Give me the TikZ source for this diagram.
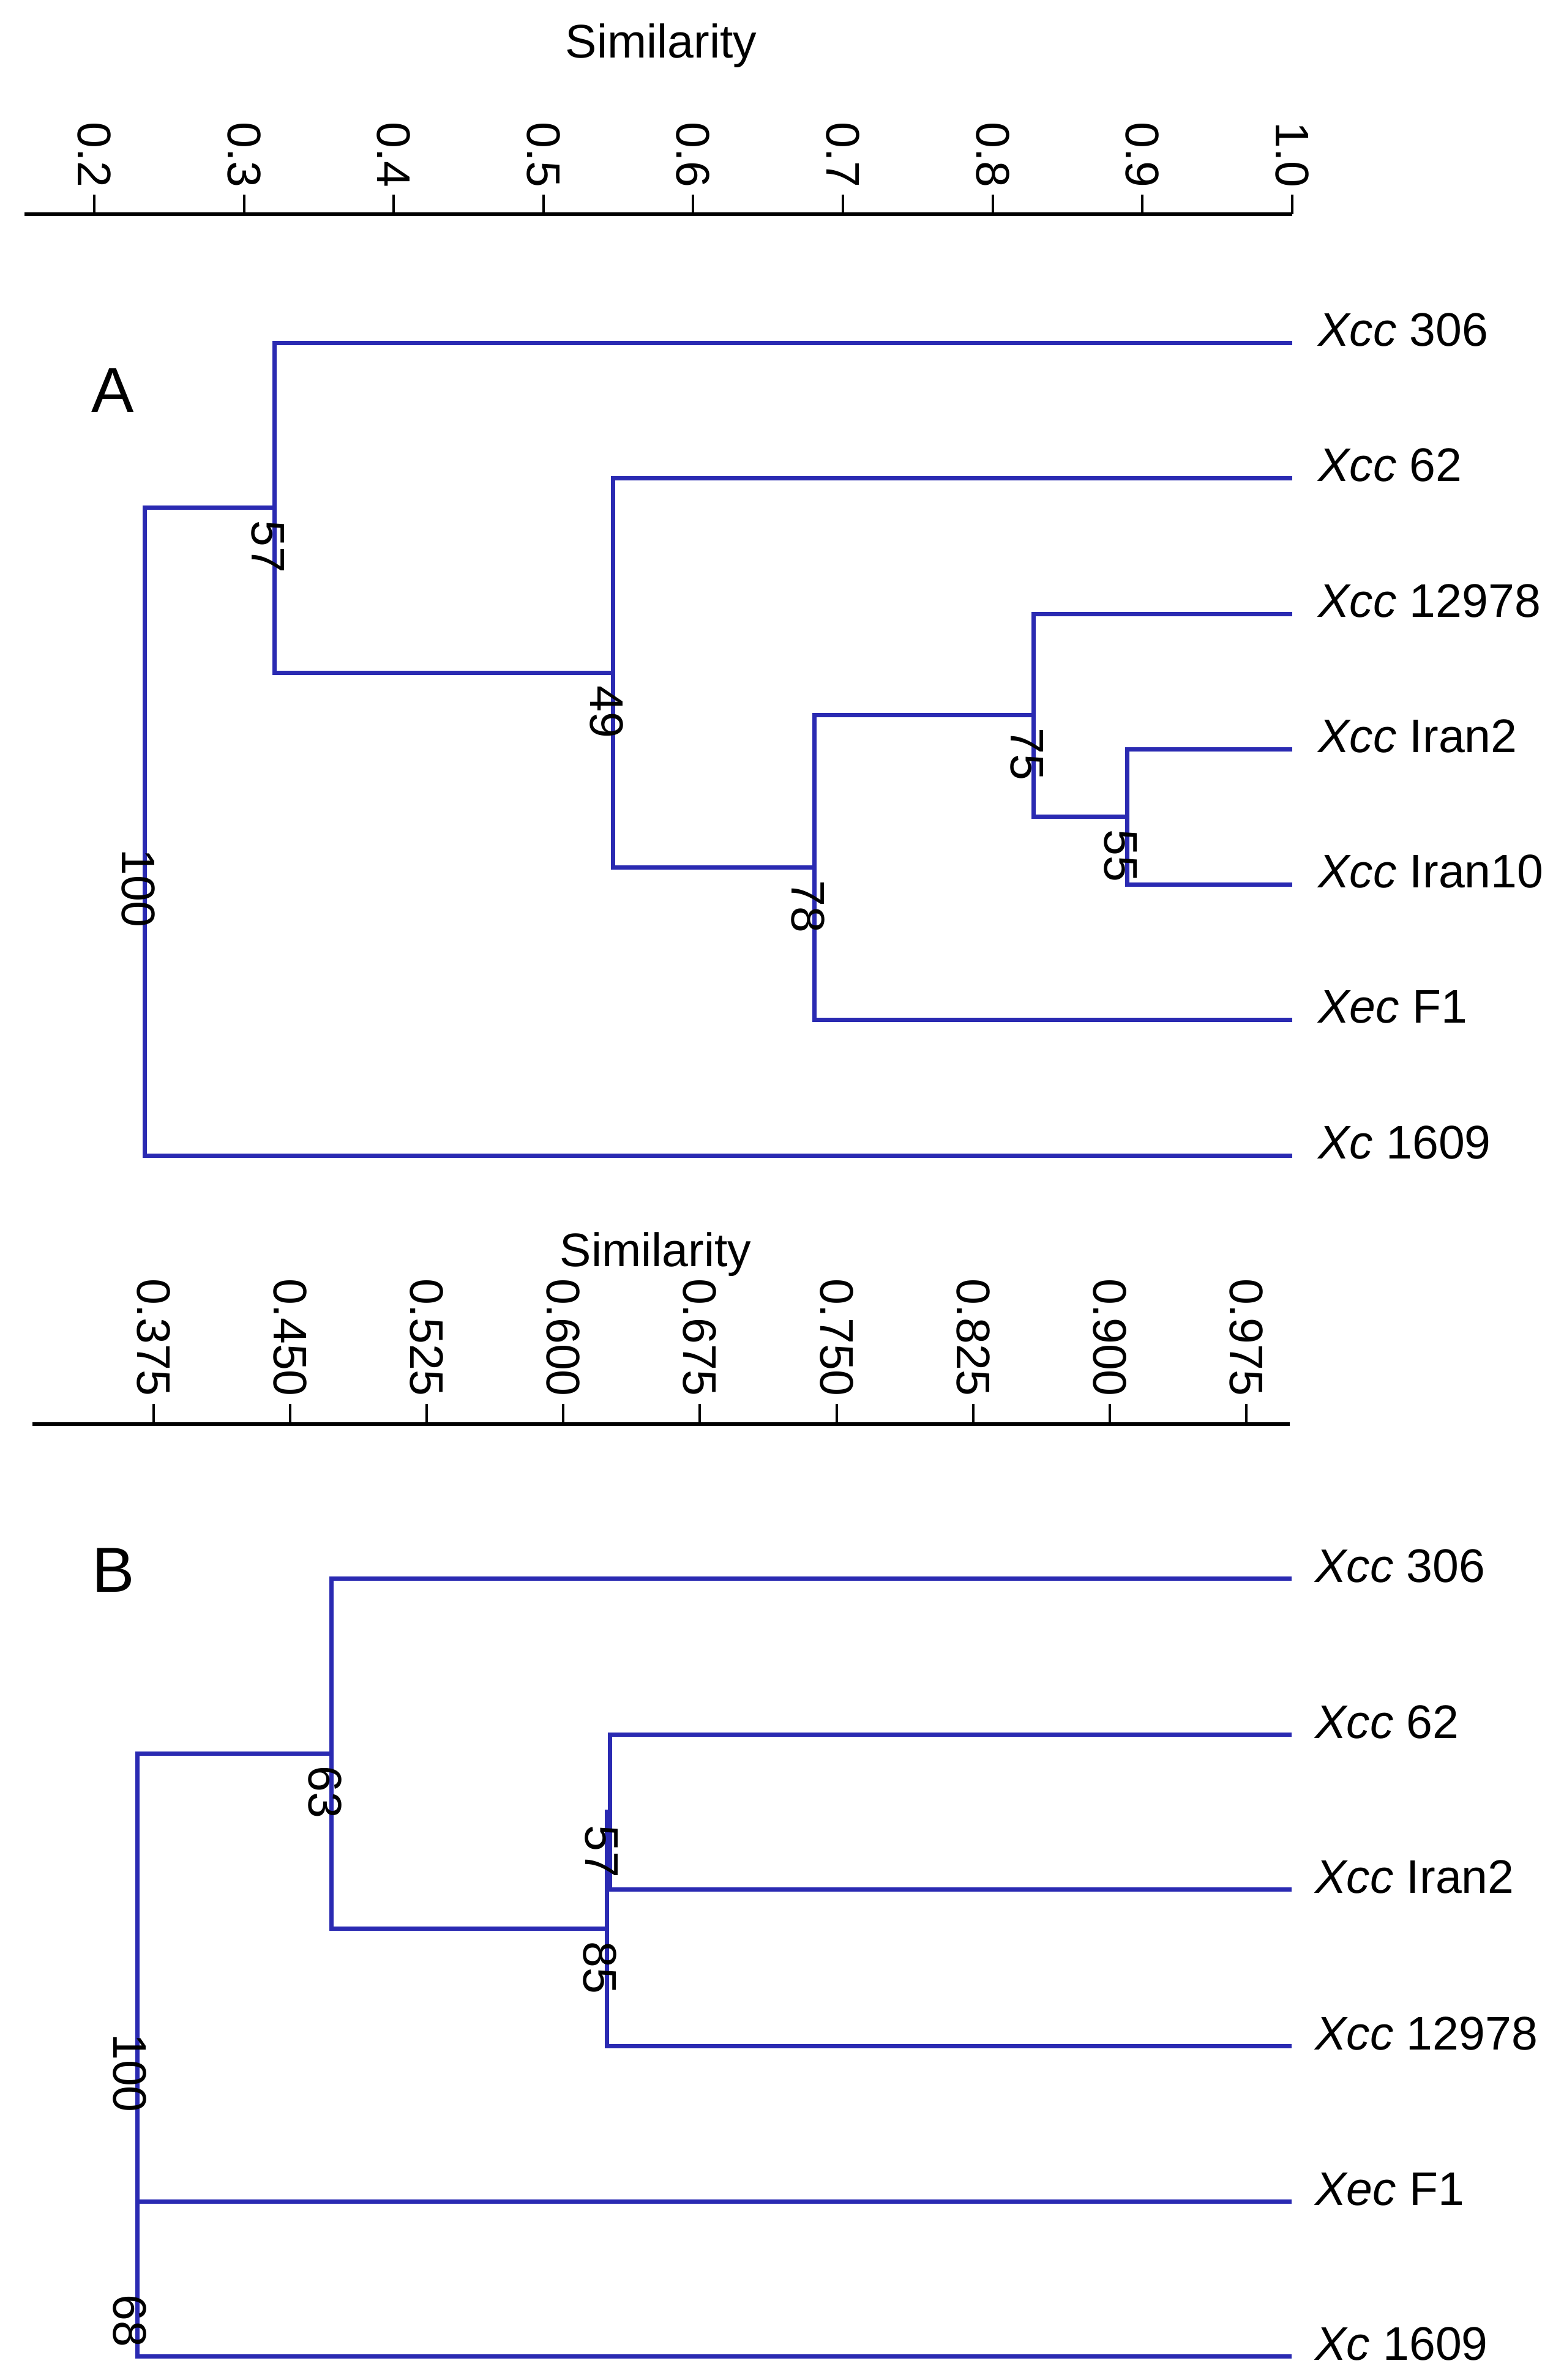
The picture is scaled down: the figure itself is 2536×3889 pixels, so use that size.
\documentclass[tikz,border=0pt]{standalone}
\usepackage{fontspec}
\setmainfont{Liberation Sans}
\newcommand{\fsnorm}{\fontsize{77}{92}\selectfont}
\newcommand{\fsbig}{\fontsize{104}{120}\selectfont}
\definecolor{treeblue}{RGB}{42,42,178}
\begin{document}
\begin{tikzpicture}[x=1pt,y=-1pt,
  br/.style={draw=treeblue, line width=7pt, line join=miter, line cap=butt},
  axisline/.style={draw=black, line width=6pt},
  tickmark/.style={draw=black, line width=4pt},
  ticklab/.style={font=\fsnorm, rotate=-90, anchor=east, inner sep=0pt},
  boot/.style={font=\fsnorm, rotate=-90, anchor=west, inner sep=0pt},
  leaf/.style={font=\fsnorm, anchor=base west, inner sep=0pt},
  ttl/.style={font=\fsnorm, anchor=base, inner sep=0pt},
  panel/.style={font=\fsbig, anchor=base west, inner sep=0pt}]
\useasboundingbox (0,0) rectangle (2536,3889);
\fill[white] (0,0) rectangle (2536,3889);

% ---------------- Panel A axis ----------------
\node[ttl] (simA) at (1080,94) {Similarity};
\draw[axisline] (40,350) -- (2111,350);
\foreach \v [count=\i from 0] in {0.2,0.3,0.4,0.5,0.6,0.7,0.8,0.9,1.0}{
  \pgfmathsetmacro{\tx}{154+\i*244.6}
  \draw[tickmark] (\tx,318) -- (\tx,350);
  \node[ticklab] (tA\i) at (\tx,307) {\v};
}

% ---------------- Panel A tree ----------------
\node[panel] (labA) at (149,673) {A};
\coordinate (a1) at (2111,560);
\coordinate (a2) at (2111,781);
\coordinate (a3) at (2111,1003);
\coordinate (a4) at (2111,1224);
\coordinate (a5) at (2111,1445);
\coordinate (a6) at (2111,1666);
\coordinate (a7) at (2111,1888);
\coordinate (n55) at (1841,1334.5);
\coordinate (n75) at (1688,1168.75);
\coordinate (n78) at (1330,1417.4);
\coordinate (n49) at (1001,1099.2);
\coordinate (n57) at (448,829.6);
\coordinate (nR)  at (236,1358.8);

\draw[br] (a4) -- (a4 -| n55) -- (a5 -| n55) -- (a5);
\draw[br] (a3) -- (a3 -| n75) -- (n55 -| n75) -- (n55);
\draw[br] (n75) -- (n75 -| n78) -- (a6 -| n78) -- (a6);
\draw[br] (a2) -- (a2 -| n49) -- (n78 -| n49) -- (n78);
\draw[br] (a1) -- (a1 -| n57) -- (n49 -| n57) -- (n49);
\draw[br] (n57) -- (n57 -| nR) -- (a7 -| nR) -- (a7);

\node[boot] (bA55) at (1831,1355) {55};
\node[boot] (bA75) at (1678,1189) {75};
\node[boot] (bA78) at (1320,1438) {78};
\node[boot] (bA49) at (991,1120) {49};
\node[boot] (bA57) at (438,850) {57};
\node[boot] (bA100) at (226,1387) {100};

\node[leaf] (LA1) at (2153,565) {\textit{Xcc} 306};
\node[leaf] (LA2) at (2153,786) {\textit{Xcc} 62};
\node[leaf] (LA3) at (2153,1008) {\textit{Xcc} 12978};
\node[leaf] (LA4) at (2153,1229) {\textit{Xcc} Iran2};
\node[leaf] (LA5) at (2153,1450) {\textit{Xcc} Iran10};
\node[leaf] (LA6) at (2153,1671) {\textit{Xec} F1};
\node[leaf] (LA7) at (2153,1893) {\textit{Xc} 1609};

% ---------------- Panel B axis ----------------
\node[ttl] (simB) at (1071,2069) {Similarity};
\draw[axisline] (53,2327) -- (2107,2327);
\foreach \v [count=\i from 0] in {0.375,0.450,0.525,0.600,0.675,0.750,0.825,0.900,0.975}{
  \pgfmathsetmacro{\tx}{251+\i*223.1}
  \draw[tickmark] (\tx,2294) -- (\tx,2327);
  \node[ticklab] (tB\i) at (\tx,2282) {\v};
}

% ---------------- Panel B tree ----------------
\node[panel] (labB) at (150,2601) {B};
\coordinate (b1) at (2110,2579);
\coordinate (b2) at (2110,2834);
\coordinate (b3) at (2110,3087);
\coordinate (b4) at (2110,3343);
\coordinate (b5) at (2110,3597);
\coordinate (b6) at (2110,3850);
\coordinate (m57) at (996,2960.5);
\coordinate (m85) at (991,3151.75);
\coordinate (m63) at (541,2865.4);
\coordinate (m68) at (224,3723.5);
\coordinate (mR)  at (224,3294.5);

\draw[br] (b2) -- (b2 -| m57) -- (b3 -| m57) -- (b3);
\draw[br] (m57) -- (m57 -| m85) -- (b4 -| m85) -- (b4);
\draw[br] (b1) -- (b1 -| m63) -- (m85 -| m63) -- (m85);
\draw[br] (b5) -- (b5 -| m68) -- (b6 -| m68) -- (b6);
\draw[br] (m63) -- (m63 -| mR) -- (m68 -| mR) -- (m68);

\node[boot] (bB63) at (531,2885) {63};
\node[boot] (bB57) at (983,2982) {57};
\node[boot] (bB85) at (980,3172) {85};
\node[boot] (bB100) at (212,3323) {100};
\node[boot] (bB68) at (212,3749) {68};

\node[leaf] (LB1) at (2148,2585) {\textit{Xcc} 306};
\node[leaf] (LB2) at (2148,2840) {\textit{Xcc} 62};
\node[leaf] (LB3) at (2148,3093) {\textit{Xcc} Iran2};
\node[leaf] (LB4) at (2148,3349) {\textit{Xcc} 12978};
\node[leaf] (LB5) at (2148,3603) {\textit{Xec} F1};
\node[leaf] (LB6) at (2148,3856) {\textit{Xc} 1609};
\end{tikzpicture}
\end{document}
